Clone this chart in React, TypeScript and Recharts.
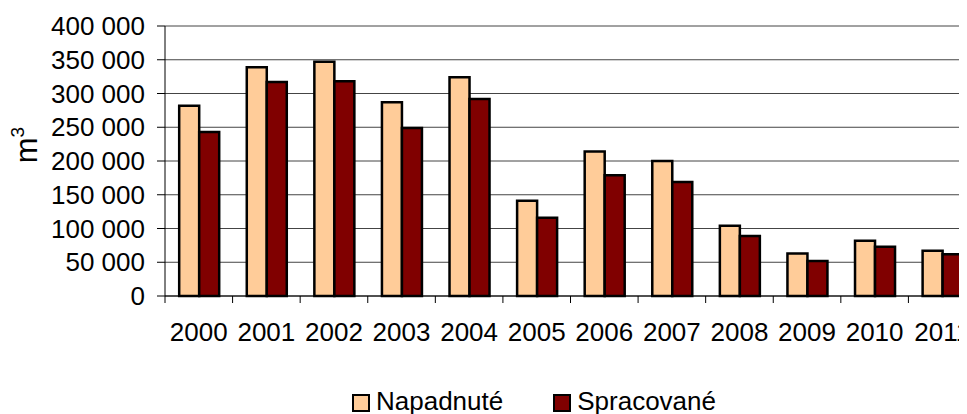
import React from "react";
import {
  BarChart,
  Bar,
  XAxis,
  YAxis,
  CartesianGrid,
  Legend,
} from "recharts";

// roky a hodnoty (m3)
const years = ["2000", "2001", "2002", "2003", "2004", "2005", "2006", "2007", "2008", "2009", "2010", "2011"];
const napadnute = [282000, 339000, 347000, 287000, 324000, 141000, 214000, 200000, 104000, 63000, 82000, 67000];
const spracovane = [243000, 317000, 318000, 249000, 292000, 116000, 179000, 169000, 89000, 52000, 73000, 62000];
const yTicks = [0, 50000, 100000, 150000, 200000, 250000, 300000, 350000, 400000];

const data = years.map((year, i) => ({
  year,
  napadnute: napadnute[i],
  spracovane: spracovane[i],
}));

const FONT = "'Liberation Sans', Arial, sans-serif";
const CHART_W = 1000;
const CHART_H = 406;
const MARGIN = { top: 18, right: 32, bottom: 0, left: 0 };
const Y_AXIS_W = 157;
const BAND = (CHART_W - MARGIN.left - MARGIN.right - Y_AXIS_W) / years.length;
const X_TICK = 7;
const X_TICK_MARGIN = 20;

const fmt = (v: number) => v.toString().replace(/\B(?=(\d{3})+(?!\d))/g, " ");

// popisky osi X + zarážky na hraniciach kategórií (ako v Exceli)
const XTick = (props: any) => {
  const { x, y, payload } = props;
  const axisY = y - X_TICK - X_TICK_MARGIN;
  return (
    <g>
      <line x1={x - BAND / 2} x2={x - BAND / 2} y1={axisY} y2={axisY + X_TICK} stroke="#000" />
      <text x={x} y={y} dy="0.71em" textAnchor="middle" fill="#000" fontSize={26} fontFamily={FONT}>
        {payload.value}
      </text>
    </g>
  );
};

const UnitLabel = (props: any) => {
  const { viewBox } = props;
  const cx = viewBox.x + 29;
  const cy = viewBox.y + viewBox.height / 2 - 16;
  return (
    <text
      x={cx}
      y={cy}
      transform={`rotate(-90, ${cx}, ${cy})`}
      textAnchor="middle"
      fill="#000"
      fontSize={31}
      fontFamily={FONT}
    >
      m<tspan fontSize={19} dy={-13}>3</tspan>
    </text>
  );
};

const LegendContent = (props: any) => {
  const { payload } = props;
  return (
    <div
      style={{
        display: "flex",
        alignItems: "flex-start",
        height: 46,
        paddingLeft: 344,
        paddingTop: 20,
        boxSizing: "border-box",
        fontFamily: FONT,
        fontSize: 26,
        color: "#000",
        lineHeight: "26px",
      }}
    >
      {(payload || []).map((item: any, i: number) => (
        <div key={i} style={{ display: "flex", alignItems: "flex-start", marginRight: 50 }}>
          <span
            style={{
              display: "inline-block",
              width: 14,
              height: 14,
              marginTop: 6,
              background: item.color,
              border: "2px solid #000",
              marginRight: 6,
            }}
          />
          <span>{item.value}</span>
        </div>
      ))}
    </div>
  );
};

export default function App() {
  return (
    <div style={{ width: 959, height: CHART_H, overflow: "hidden", position: "relative" }}>
      <BarChart
        width={CHART_W}
        height={CHART_H}
        data={data}
        margin={MARGIN}
        barCategoryGap="21%"
        barGap={0}
      >
        <CartesianGrid vertical={false} stroke="#444" />
        <XAxis
          dataKey="year"
          interval={0}
          height={72}
          stroke="#000"
          tickLine={false}
          tickSize={X_TICK}
          tickMargin={X_TICK_MARGIN}
          tick={<XTick />}
        />
        <YAxis
          width={Y_AXIS_W}
          domain={[0, 400000]}
          ticks={yTicks}
          interval={0}
          stroke="#000"
          tickSize={8}
          tickMargin={12}
          tickFormatter={fmt}
          tick={{ fill: "#000", fontSize: 26, fontFamily: FONT }}
          label={<UnitLabel />}
        />
        <Legend verticalAlign="bottom" content={<LegendContent />} wrapperStyle={{ left: 0, width: CHART_W }} />
        <Bar
          dataKey="napadnute"
          name="Napadnuté"
          fill="#FFCC99"
          stroke="#000"
          strokeWidth={2.5}
          isAnimationActive={false}
        />
        <Bar
          dataKey="spracovane"
          name="Spracované"
          fill="#800000"
          stroke="#000"
          strokeWidth={2.5}
          isAnimationActive={false}
        />
      </BarChart>
    </div>
  );
}
